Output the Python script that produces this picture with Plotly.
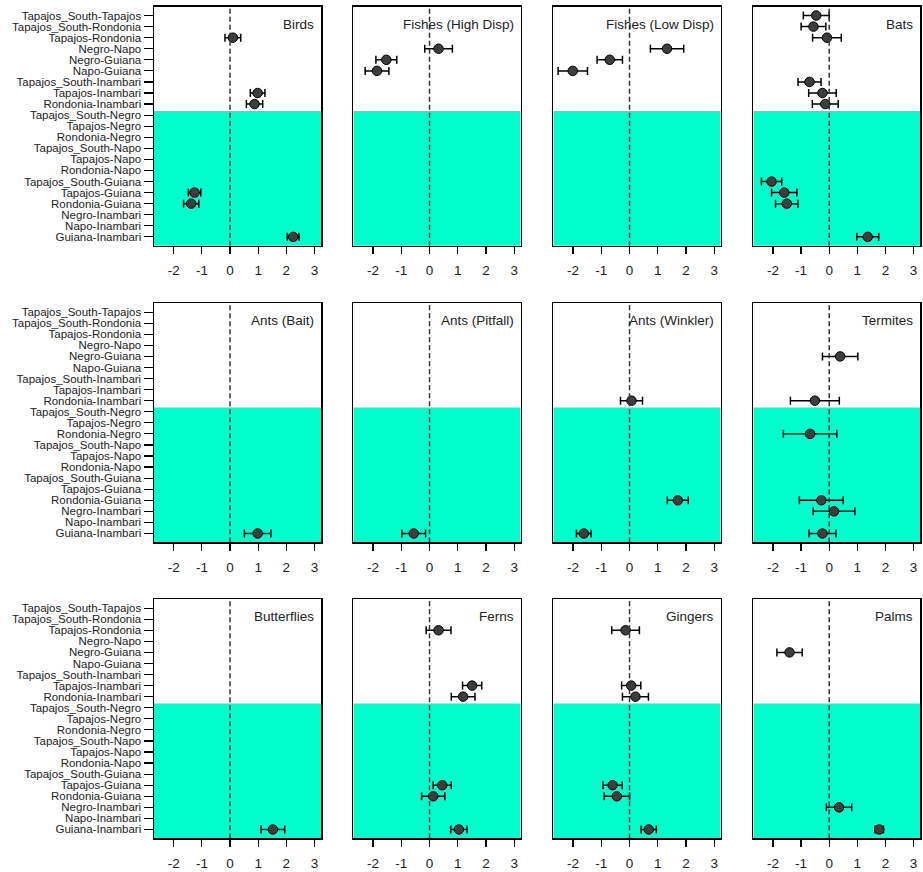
import plotly.graph_objects as go

categories = [
    "Tapajos_South-Tapajos", "Tapajos_South-Rondonia", "Tapajos-Rondonia",
    "Negro-Napo", "Negro-Guiana", "Napo-Guiana", "Tapajos_South-Inambari",
    "Tapajos-Inambari", "Rondonia-Inambari", "Tapajos_South-Negro",
    "Tapajos-Negro", "Rondonia-Negro", "Tapajos_South-Napo", "Tapajos-Napo",
    "Rondonia-Napo", "Tapajos_South-Guiana", "Tapajos-Guiana",
    "Rondonia-Guiana", "Negro-Inambari", "Napo-Inambari", "Guiana-Inambari",
]
x_tick_values = [-2, -1, 0, 1, 2, 3]
x_tick_labels = ["-2", "-1", "0", "1", "2", "3"]

taxa = ["Birds", "Fishes (High Disp)", "Fishes (Low Disp)", "Bats",
        "Ants (Bait)", "Ants (Pitfall)", "Ants (Winkler)", "Termites",
        "Butterflies", "Ferns", "Gingers", "Palms"]

birds_pairs = ["Tapajos-Rondonia", "Tapajos-Inambari", "Rondonia-Inambari",
               "Tapajos-Guiana", "Rondonia-Guiana", "Guiana-Inambari"]
birds_est = [0.10, 0.98, 0.87, -1.26, -1.38, 2.24]
birds_err = [0.28, 0.26, 0.29, 0.22, 0.27, 0.21]

fishes_high_pairs = ["Negro-Napo", "Negro-Guiana", "Napo-Guiana"]
fishes_high_est = [0.32, -1.53, -1.86]
fishes_high_err = [0.49, 0.37, 0.42]

fishes_low_pairs = ["Negro-Napo", "Negro-Guiana", "Napo-Guiana"]
fishes_low_est = [1.33, -0.70, -2.01]
fishes_low_err = [0.59, 0.45, 0.52]

bats_pairs = ["Tapajos_South-Tapajos", "Tapajos_South-Rondonia", "Tapajos-Rondonia",
              "Tapajos_South-Inambari", "Tapajos-Inambari", "Rondonia-Inambari",
              "Tapajos_South-Guiana", "Tapajos-Guiana", "Rondonia-Guiana",
              "Guiana-Inambari"]
bats_est = [-0.46, -0.56, -0.08, -0.70, -0.24, -0.14, -2.05, -1.60, -1.51, 1.37]
bats_err = [0.46, 0.44, 0.51, 0.41, 0.49, 0.46, 0.36, 0.45, 0.40, 0.39]

ants_bait_pairs = ["Guiana-Inambari"]
ants_bait_est = [0.98]
ants_bait_err = [0.47]

ants_pitfall_pairs = ["Guiana-Inambari"]
ants_pitfall_est = [-0.56]
ants_pitfall_err = [0.42]

ants_winkler_pairs = ["Rondonia-Inambari", "Rondonia-Guiana", "Guiana-Inambari"]
ants_winkler_est = [0.07, 1.71, -1.62]
ants_winkler_err = [0.39, 0.37, 0.26]

termites_pairs = ["Negro-Guiana", "Rondonia-Inambari", "Rondonia-Negro",
                  "Rondonia-Guiana", "Negro-Inambari", "Guiana-Inambari"]
termites_est = [0.39, -0.51, -0.68, -0.28, 0.17, -0.24]
termites_err = [0.63, 0.87, 0.95, 0.78, 0.74, 0.48]

butterflies_pairs = ["Guiana-Inambari"]
butterflies_est = [1.52]
butterflies_err = [0.42]

ferns_pairs = ["Tapajos-Rondonia", "Tapajos-Inambari", "Rondonia-Inambari",
               "Tapajos-Guiana", "Rondonia-Guiana", "Guiana-Inambari"]
ferns_est = [0.32, 1.51, 1.19, 0.45, 0.13, 1.04]
ferns_err = [0.44, 0.34, 0.42, 0.32, 0.41, 0.29]

gingers_pairs = ["Tapajos-Rondonia", "Tapajos-Inambari", "Rondonia-Inambari",
                 "Tapajos-Guiana", "Rondonia-Guiana", "Guiana-Inambari"]
gingers_est = [-0.14, 0.06, 0.21, -0.60, -0.45, 0.68]
gingers_err = [0.49, 0.34, 0.46, 0.34, 0.45, 0.27]

palms_pairs = ["Negro-Guiana", "Negro-Inambari", "Guiana-Inambari"]
palms_est = [-1.41, 0.35, 1.78]
palms_err = [0.45, 0.45, 0.15]

panels = [
    (birds_pairs, birds_est, birds_err),
    (fishes_high_pairs, fishes_high_est, fishes_high_err),
    (fishes_low_pairs, fishes_low_est, fishes_low_err),
    (bats_pairs, bats_est, bats_err),
    (ants_bait_pairs, ants_bait_est, ants_bait_err),
    (ants_pitfall_pairs, ants_pitfall_est, ants_pitfall_err),
    (ants_winkler_pairs, ants_winkler_est, ants_winkler_err),
    (termites_pairs, termites_est, termites_err),
    (butterflies_pairs, butterflies_est, butterflies_err),
    (ferns_pairs, ferns_est, ferns_err),
    (gingers_pairs, gingers_est, gingers_err),
    (palms_pairs, palms_est, palms_err),
]

# ---- layout geometry (page pixels) ----
W, H = 923, 872
col_px = [(154, 321), (353.3, 520.7), (553.3, 720.7), (753.3, 920)]
row_px = [(6.7, 245.7), (303.3, 542.3), (599.3, 838.3)]
x_range = [-2.7, 3.23]
y_range = [20.8, -0.8]
shade_start = 8.62
FONT = "Arial, Liberation Sans, Helvetica, sans-serif"


def fx(px):
    return min(max(px / W, 0), 1)


def fy(py):
    return min(max(1 - py / H, 0), 1)


fig = go.Figure()
layout = dict(
    width=W, height=H, margin=dict(l=0, r=0, t=0, b=0),
    paper_bgcolor="white", plot_bgcolor="white", showlegend=False,
    font=dict(family=FONT, color="black"),
)
shapes = []
annotations = []

for i, (pairs, est, err) in enumerate(panels):
    r, c = divmod(i, 4)
    n = "" if i == 0 else str(i + 1)
    xa, ya = "x" + n, "y" + n
    x0, x1 = col_px[c]
    t, b = row_px[r]
    layout["xaxis" + n] = dict(
        domain=[fx(x0), fx(x1)], range=x_range, anchor=ya,
        tickvals=x_tick_values, ticktext=x_tick_labels,
        ticks="outside", ticklen=7, tickwidth=1.2,
        tickcolor="black", tickfont=dict(size=13.5, family=FONT, color="#222"),
        showline=True, mirror=True, linecolor="black", linewidth=1.5,
        showgrid=False, zeroline=False, ticklabelstandoff=5, fixedrange=True,
    )
    ydict = dict(
        domain=[fy(b), fy(t)], range=y_range, anchor=xa,
        showline=True, mirror=True, linecolor="black", linewidth=1.5,
        showgrid=False, zeroline=False, fixedrange=True,
    )
    if c == 0:
        ydict.update(tickvals=list(range(len(categories))), ticktext=categories,
                     ticks="outside", ticklen=9, tickwidth=1.2, tickcolor="black",
                     tickfont=dict(size=11.5, family=FONT, color="#222"))
    else:
        ydict.update(showticklabels=False, ticks="")
    layout["yaxis" + n] = ydict

    shapes.append(dict(type="rect", xref=xa, yref=ya, x0=x_range[0], x1=x_range[1],
                       y0=shade_start, y1=y_range[0], fillcolor="#00FFCC",
                       line=dict(width=0), layer="below"))
    shapes.append(dict(type="line", xref=xa, yref=ya + " domain", x0=0, x1=0,
                       y0=0, y1=1, line=dict(color="#333333", width=1.5, dash="5px,3px"),
                       layer="above"))
    annotations.append(dict(text=taxa[i], xref=xa + " domain", yref=ya + " domain",
                            x=1, y=1, xanchor="right", yanchor="middle",
                            xshift=-5, yshift=-17.5, showarrow=False,
                            font=dict(size=13.5, family=FONT, color="#222")))

    fig.add_trace(go.Scatter(
        x=est, y=[categories.index(p) for p in pairs], mode="markers",
        xaxis=xa, yaxis=ya,
        marker=dict(size=9.5, color="#3d3d3d", line=dict(color="black", width=1)),
        error_x=dict(type="data", array=err, visible=True, color="black",
                     thickness=1.5, width=4),
        hoverinfo="skip",
    ))

layout["shapes"] = shapes
layout["annotations"] = annotations
fig.update_layout(**layout)
fig.write_html("out.html",
               config={"displayModeBar": False, "staticPlot": True},
               post_script="document.body.style.margin='0px';"
                           "document.body.style.overflow='hidden';")
